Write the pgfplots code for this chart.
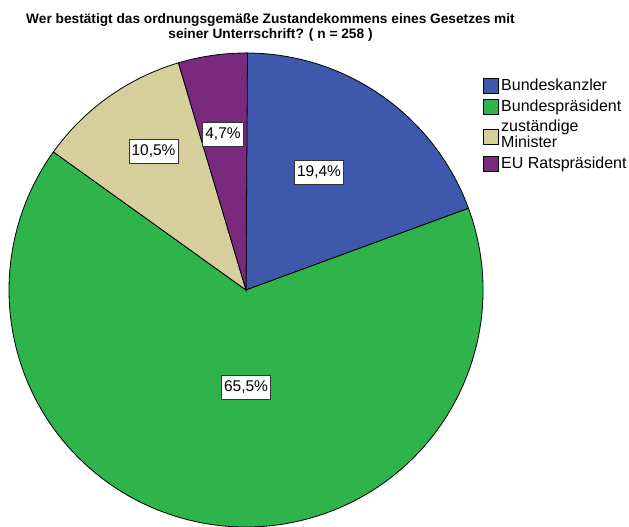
\documentclass[border=0pt]{standalone}
\usepackage{pgfplots}
\pgfplotsset{compat=1.18}
\usepackage{fontspec}
\setmainfont{Liberation Sans}
\definecolor{cBK}{HTML}{3E58AC}
\definecolor{cBP}{HTML}{2EB44A}
\definecolor{cMin}{HTML}{D6CF9C}
\definecolor{cEU}{HTML}{7A2A7D}
\begin{document}
\begin{tikzpicture}
% shares in percent
\def\vBK{19.4}\def\vBP{65.5}\def\vMin{10.5}\def\vEU{4.7}
\pgfmathsetmacro\aA{90}
\pgfmathsetmacro\aB{\aA-3.6*\vBK}
\pgfmathsetmacro\aC{\aB-3.6*\vBP}
\pgfmathsetmacro\aD{\aC-3.6*\vMin}
\pgfmathsetmacro\aE{\aD-3.6*\vEU}
\begin{axis}[
  at={(0,0)}, anchor=south west,
  x=1pt, y=1pt, xmin=0, xmax=629, ymin=0, ymax=527,
  scale only axis, hide axis, clip=false]
\def\R{237pt}
\filldraw[fill=cBK, draw=black, line width=0.8pt] (axis cs:246,237) -- +(\aA:\R) arc[start angle=\aA, end angle=\aB, radius=\R] -- cycle;
\filldraw[fill=cBP, draw=black, line width=0.8pt] (axis cs:246,237) -- +(\aB:\R) arc[start angle=\aB, end angle=\aC, radius=\R] -- cycle;
\filldraw[fill=cMin, draw=black, line width=0.8pt] (axis cs:246,237) -- +(\aC:\R) arc[start angle=\aC, end angle=\aD, radius=\R] -- cycle;
\filldraw[fill=cEU, draw=black, line width=0.8pt] (axis cs:246,237) -- +(\aD:\R) arc[start angle=\aD, end angle=\aE, radius=\R] -- cycle;
% value labels
\tikzset{lbl/.style={fill=white, draw=black!80, line width=0.8pt, inner xsep=2.5pt, inner ysep=0pt, minimum height=24pt, font=\fontsize{15.5}{16}\selectfont}}
\node[lbl] at (axis cs:319,355) {19,4\%};
\node[lbl] at (axis cs:246,140) {65,5\%};
\node[lbl] at (axis cs:153.5,376) {10,5\%};
\node[lbl] at (axis cs:223,393) {4,7\%};
% title
\node[anchor=base, font=\bfseries\fontsize{13.7}{16}\selectfont] at (axis cs:270.5,503.5) {Wer bestätigt das ordnungsgemäße Zustandekommens eines Gesetzes mit};
\node[anchor=base, font=\bfseries\fontsize{13.7}{16}\selectfont] at (axis cs:270.5,488) {seiner Unterrschrift? ( n = 258 )};
% legend
\tikzset{sq/.style={draw=black, line width=0.8pt, minimum size=15pt, inner sep=0pt}, lt/.style={anchor=base west, inner sep=0pt, font=\fontsize{16}{16}\selectfont}}
\node[sq, fill=cBK] at (axis cs:490.5,441) {};
\node[lt] at (axis cs:501,436.3) {Bundeskanzler};
\node[sq, fill=cBP] at (axis cs:490.5,420) {};
\node[lt] at (axis cs:501,415.3) {Bundespräsident};
\node[sq, fill=cMin] at (axis cs:490.5,390.5) {};
\node[lt] at (axis cs:501,395.3) {zuständige};
\node[lt] at (axis cs:501,379) {Minister};
\node[sq, fill=cEU] at (axis cs:490.5,363) {};
\node[lt] at (axis cs:501,358.3) {EU Ratspräsident};
\end{axis}
\pgfresetboundingbox
\path (0,0) rectangle (629pt,527pt);
\end{tikzpicture}
\end{document}
